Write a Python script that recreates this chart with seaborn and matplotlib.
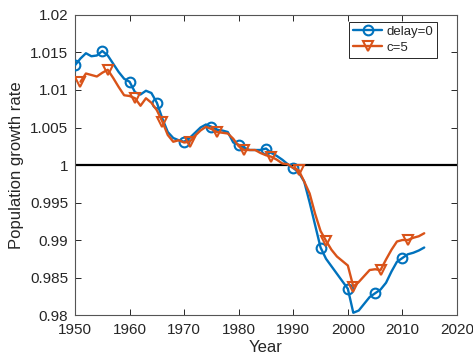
import numpy as np
import pandas as pd
import matplotlib
matplotlib.use("Agg")
import matplotlib.pyplot as plt
import seaborn as sns

# Annual population growth rate, baseline model (no delay), 1950-2014
years_delay0 = list(range(1950, 2015))
rate_delay0 = [
    1.0133, 1.0142, 1.0149, 1.0145, 1.0146, 1.0152, 1.0146, 1.0135, 1.0124, 1.0115,
    1.0111, 1.0097, 1.0094, 1.0099, 1.0096, 1.0083, 1.0062, 1.0044, 1.0036, 1.0033,
    1.0031, 1.0036, 1.0043, 1.0050, 1.0054, 1.0051, 1.0047, 1.0046, 1.0044, 1.0030,
    1.0027, 1.0023, 1.0020, 1.0020, 1.0020, 1.0022, 1.0016, 1.0012, 1.0007, 1.0001,
    0.9996, 0.9990, 0.9978, 0.9950, 0.9920, 0.9890, 0.9875, 0.9865, 0.9855, 0.9845,
    0.9835, 0.9803, 0.9806, 0.9815, 0.9824, 0.9829, 0.9834, 0.9843, 0.9858, 0.9871,
    0.9876, 0.9881, 0.9883, 0.9886, 0.9890,
]

# Growth rate with a 5-year delay, 1951-2014
years_c5 = list(range(1951, 2015))
rate_c5 = [
    1.0111, 1.0122, 1.0120, 1.0118, 1.0123, 1.0127, 1.0116, 1.0104, 1.0093,
    1.0092, 1.0089, 1.0079, 1.0089, 1.0083, 1.0073, 1.0058, 1.0040, 1.0031, 1.0033,
    1.0030, 1.0031, 1.0039, 1.0046, 1.0051, 1.0048, 1.0044, 1.0043, 1.0042, 1.0035,
    1.0025, 1.0020, 1.0020, 1.0020, 1.0016, 1.0013, 1.0011, 1.0007, 1.0002, 1.0001,
    0.9996, 0.9993, 0.9978, 0.9962, 0.9935, 0.9912, 0.9899, 0.9887, 0.9878, 0.9872,
    0.9866, 0.9838, 0.9844, 0.9852, 0.9860, 0.9861, 0.9860, 0.9874, 0.9887, 0.9898,
    0.9900, 0.9900, 0.9903, 0.9905, 0.9909,
]

series_labels = ["delay=0", "c=5"]
x_ticks = [1950, 1960, 1970, 1980, 1990, 2000, 2010, 2020]
y_ticks = [0.98, 0.985, 0.99, 0.995, 1.0, 1.005, 1.01, 1.015, 1.02]
y_tick_labels = ["0.98", "0.985", "0.99", "0.995", "1", "1.005", "1.01", "1.015", "1.02"]

df0 = pd.DataFrame({"Year": years_delay0, "rate": rate_delay0})
df5 = pd.DataFrame({"Year": years_c5, "rate": rate_c5})

sns.set_style("ticks")
plt.rcParams["font.family"] = ["Liberation Sans", "DejaVu Sans"]

BLUE = "#0072BD"
ORANGE = "#D95319"
AXCOL = "#262626"

fig = plt.figure(figsize=(4.73, 3.57), dpi=100)
ax = fig.add_axes([0.1586, 0.1176, 0.8075, 0.8404])

ax.axhline(1.0, color="black", lw=1.6, zorder=1)

sns.lineplot(data=df0, x="Year", y="rate", ax=ax, color=BLUE, lw=1.7,
             marker="o", markevery=5, markersize=7, markerfacecolor="none",
             markeredgecolor=BLUE, markeredgewidth=1.5, label=series_labels[0],
             zorder=3)
sns.lineplot(data=df5, x="Year", y="rate", ax=ax, color=ORANGE, lw=1.7,
             marker="v", markevery=5, markersize=7.5, markerfacecolor="none",
             markeredgecolor=ORANGE, markeredgewidth=1.5, label=series_labels[1],
             zorder=4)

ax.set_xlim(1950, 2020)
ax.set_ylim(0.98, 1.02)
ax.set_xticks(x_ticks)
ax.set_xticklabels([str(t) for t in x_ticks])
ax.set_yticks(y_ticks)
ax.set_yticklabels(y_tick_labels)

ax.tick_params(axis="both", which="both", direction="in", length=4, width=0.7,
               colors=AXCOL, labelsize=11, top=True, right=True, pad=5)
ax.tick_params(axis="x", pad=6)
for side in ["left", "right", "top", "bottom"]:
    ax.spines[side].set_visible(True)
    ax.spines[side].set_color("#555555")
    ax.spines[side].set_linewidth(0.8)

ax.set_xlabel("Year", fontsize=12, color=AXCOL, labelpad=2)
ax.set_ylabel("Population growth rate", fontsize=12, color=AXCOL, labelpad=4)

leg = ax.legend(loc="upper right", bbox_to_anchor=(0.948, 0.977), fontsize=9.5,
                frameon=True, fancybox=False, edgecolor=AXCOL, framealpha=1,
                handlelength=2.2, handletextpad=0.3, borderpad=0.3,
                labelspacing=0.25, borderaxespad=0.0)
leg.get_frame().set_linewidth(0.7)

fig.savefig("out.png", dpi=100)
